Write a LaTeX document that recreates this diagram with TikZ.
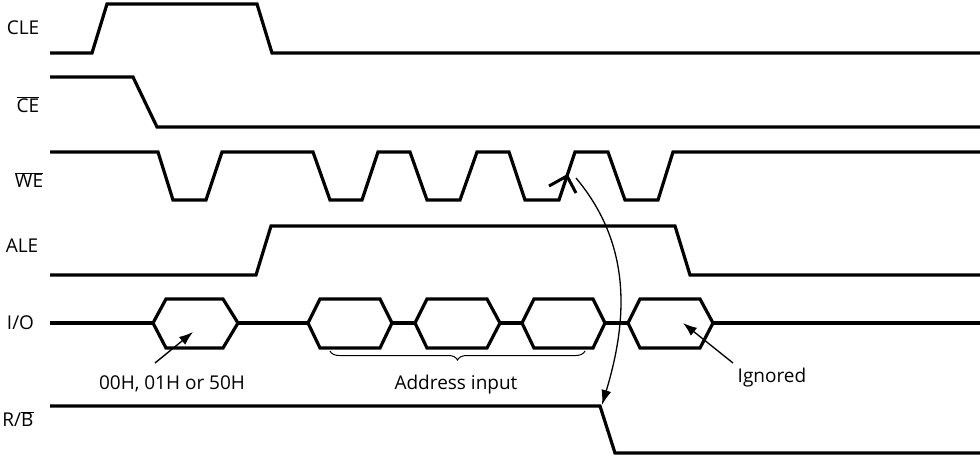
\documentclass[tikz,border=0pt]{standalone}
\usepackage{fontspec}
\setmainfont{Open Sans}
\usetikzlibrary{arrows.meta,decorations.pathreplacing}
\tikzset{
  sig/.style={line width=3.2pt, line join=miter},
  thin/.style={line width=1.4pt},
  lbl/.style={font=\fontsize{19}{21}\selectfont, inner sep=0pt},
  txt/.style={font=\fontsize{19}{21}\selectfont, inner sep=0pt, anchor=base},
  arr/.style={thin, -{Latex[length=14pt,width=10pt]}}
}
\begin{document}
\begin{tikzpicture}[x=1pt,y=-1pt]
\useasboundingbox (0,0) rectangle (980,456);
% labels
\node[lbl] (lcle) at (23,27.5) {CLE};
\node[lbl] (lce) at (28,105) {$\overline{\mbox{CE}}$};
\node[lbl] (lwe) at (29,180) {$\overline{\mbox{WE}}$};
\node[lbl] (lale) at (22,246) {ALE};
\node[lbl] (lio) at (20.5,323) {I/O};
\node[lbl] (lrb) at (18,419) {R/$\overline{\mbox{B}}$};
% CLE
\draw[sig] (50,53)--(92,53)--(107,4)--(257,4)--(272,53)--(980,53);
% CE
\draw[sig] (50,77)--(133,77)--(157,127)--(980,127);
% WE
\draw[sig] (50,152)--(158,152)--(173,200)--(206,200)--(222,152)--(313,152)--(330,200)--(362,200)--(378,152)--(410,152)--(427,200)--(460,200)--(477,152)--(509,152)--(525,200)--(559,200)--(575,152)--(608,152)--(625,200)--(658,200)--(673,152)--(980,152);
% ALE
\draw[sig] (50,275)--(256,275)--(271,226)--(675,226)--(690,275)--(980,275);
% I/O
\draw[sig] (50,323)--(153,323);
\draw[sig] (153,323)--(166,299)--(223,299)--(238,323)--(223,348)--(166,348)--cycle;
\draw[sig] (238,323)--(308,323);
\draw[sig] (308,323)--(320,299)--(380,299)--(392,323)--(380,348)--(320,348)--cycle;
\draw[sig] (392,323)--(415,323);
\draw[sig] (415,323)--(427,299)--(487,299)--(500,323)--(487,348)--(427,348)--cycle;
\draw[sig] (500,323)--(522,323);
\draw[sig] (522,323)--(534,299)--(593,299)--(605,323)--(593,348)--(534,348)--cycle;
\draw[sig] (605,323)--(628,323);
\draw[sig] (628,323)--(640,299)--(700,299)--(713,323)--(700,348)--(640,348)--cycle;
\draw[sig] (713,323)--(980,323);
% R/B
\draw[sig] (50,406)--(600,406)--(615,453)--(980,453);
% brace
\draw[line width=1pt, decorate, decoration={brace,mirror,amplitude=9pt,aspect=0.5}] (330,351) -- (585,351);
% texts
\node[txt] (t00) at (172,389) {00H, 01H or 50H};
\node[txt] (tad) at (456,389) {Address input};
\node[txt] (tig) at (772,382) {Ignored};
% label arrows
\coordinate (a0s) at (155,363);
\coordinate (a0e) at (193,332);
\draw[arr] (a0s) -- (a0e);
\coordinate (igs) at (733,363);
\coordinate (ige) at (683,323);
\draw[arr] (igs) -- (ige);
% chevron on WE edge
\coordinate (chl) at (549,186);
\coordinate (cht) at (567,176);
\coordinate (chr) at (576,193);
\draw[line width=3pt] (chl) -- (cht) -- (chr);
% curved arrow WE -> R/B
\coordinate (cws) at (576,178);
\coordinate (crb) at (602,405);
\draw[line width=1.3pt, -{Latex[length=15pt,width=10pt]}] (cws) .. controls (633,246) and (627,322) .. (crb);
\end{tikzpicture}
\end{document}
